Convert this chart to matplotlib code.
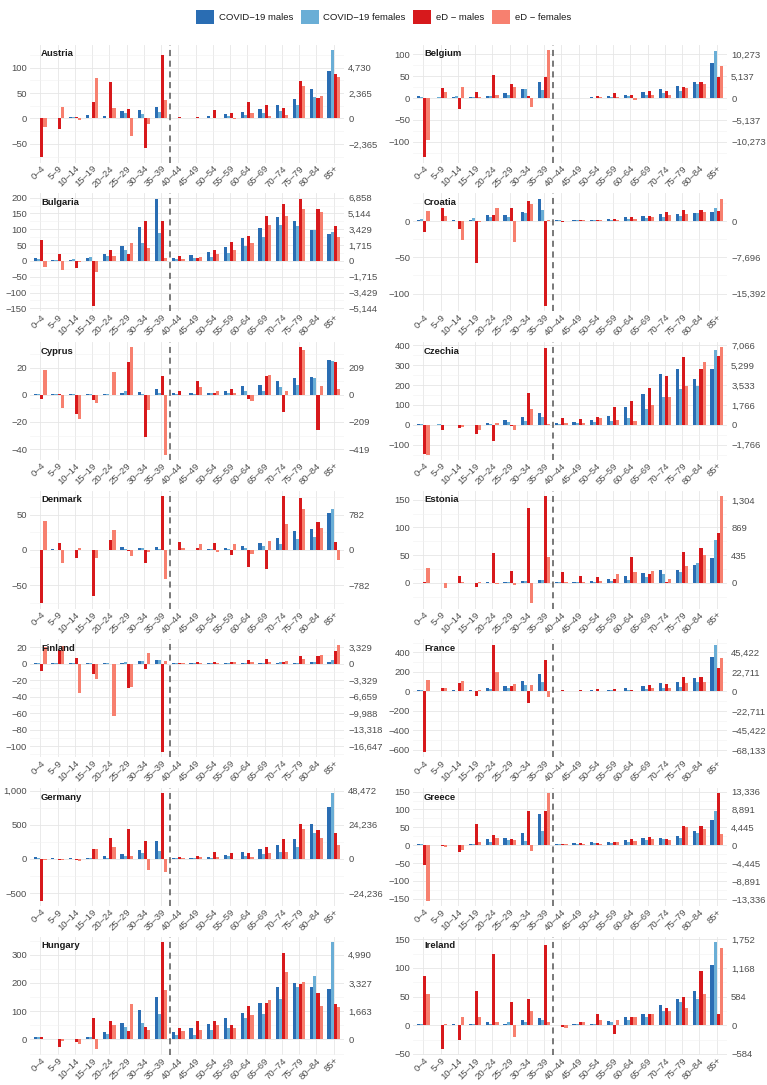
import numpy as np
import matplotlib
matplotlib.use('Agg')
import matplotlib.pyplot as plt
from matplotlib import ticker
from matplotlib.patches import Patch

plt.rcParams['font.family'] = ['Liberation Sans', 'DejaVu Sans']

ages = ['0–4', '5–9', '10–14', '15–19', '20–24', '25–29', '30–34', '35–39', '40–44',
        '45–49', '50–54', '55–59', '60–64', '65–69', '70–74', '75–79', '80–84', '85+']

# rows: COVID-19 males, COVID-19 females, eD males, eD females
# from 40-44 on the values are in left-axis units (right axis = value * factor)
austria = [
    [1, 0.5, 3, 6, 4, 15, 16, 23, 1, 1, 5, 8, 13, 18, 27, 39, 59, 94],
    [1, 0.5, 3, 1, 1, 11, 9, 12, 1, 1, 1, 5, 6, 10, 15, 26, 42, 135],
    [-76, -21, 3, 32, 71, 19, -59, 125, 3, 2, 17, 10, 32, 26, 21, 74, 41, 87],
    [-16, 22, -3, 80, 21, -34, -10, 37, 1, 1, 1, -1, 11, 5, 6, 64, 45, 82]]
belgium = [
    [5, 1, 2, 2, 5, 12, 20, 36, 1, 1, 2, 5, 8, 13, 21, 27, 37, 79],
    [2, 2, 4, 3, 4, 8, 20, 19, 1, 1, 1, 3, 5, 7, 11, 16, 31, 108],
    [-135, 22, -24, 13, 52, 32, 5, 48, 1, 1, 4, 11, 7, 17, 15, 25, 36, 48],
    [-95, 14, 25, 3, 6, 25, -21, 110, 1, 1, 2, 3, -4, 8, 6, 22, 32, 73]]
bulgaria = [
    [8, 3, 2, 9, 23, 46, 107, 197, 10, 18, 29, 43, 72, 103, 139, 126, 98, 84],
    [6, 2, 5, 12, 16, 34, 55, 87, 5, 8, 13, 25, 46, 74, 112, 111, 97, 92],
    [66, 21, -21, -142, 36, 22, 125, 126, 16, 10, 36, 61, 79, 141, 180, 197, 165, 110],
    [-19, -30, -5, -34, 14, 56, 41, 10, 7, 12, 23, 33, 58, 113, 143, 165, 155, 77]]
croatia = [
    [2, 0.5, 2, 1, 9, 8, 13, 31, 1, 1, 2, 3, 5, 7, 10, 10, 11, 13],
    [3, 0.5, 0.5, 4, 5, 6, 11, 15, 1, 1, 1, 1, 3, 4, 5, 7, 11, 18],
    [-15, 18, -11, -58, 9, 18, 27, -117, -1, 2, 2, 3, 6, 7, 13, 15, 15, 14],
    [14, 7, -26, -2, 18, -29, 23, 1, 0.5, 1, 1, 1, 3, 5, 8, 10, 13, 31]]
cyprus = [
    [0.3, 0.3, 0.3, 0.3, 0.3, 1.5, 2, 4, 1, 1, 1.5, 2.5, 6.5, 7, 10, 12.5, 13, 25.5],
    [0.3, 0.5, 0.3, 0.3, 0.3, 3, 0.3, 1, 0.3, 0.5, 1.5, 1, 2.5, 3, 6, 7.5, 12, 25],
    [-3, 0.3, -14, -4, -0.5, 24, -31, 13.5, 2.5, 10, 1.5, 4.5, -3, 13.5, -12.5, 35, -26, 24],
    [18.5, -9.5, -18, -6, 17, 35, -11.5, -44, -0.5, 6, 3, 1, -4.5, 14.5, 2.5, 33, 6.5, 4]]
czechia = [
    [2, 1, 1, 1, 8, 22, 40, 61, 7, 15, 25, 45, 87, 153, 253, 280, 228, 283],
    [5, 4, 1, 1, 3, 14, 17, 41, 5, 7, 12, 21, 36, 77, 142, 182, 197, 378],
    [-147, -27, -17, -45, -84, -8, 162, 388, 32, 27, 39, 87, 118, 183, 245, 343, 283, 347],
    [-150, -1, -12, -28, 8, -24, 78, 2, 8, 10, 33, 25, 21, 100, 142, 193, 316, 390]]
denmark = [
    [0.5, 1, 0.5, 0.3, 0.5, 4, 3, 4, 0.5, 0.5, 2, 2.5, 5, 10.5, 17, 27, 30, 53],
    [0.3, 0.3, 0.3, 0.3, 0.5, 2, 3, 2, 0.5, 0.5, 1.5, 1.5, 3, 5, 9, 16, 18, 59],
    [-76, 10, -11, -65, 13.5, -1, -19, 77, 11, 3, 9.5, -6.5, -25, -27, 77, 74, 40, 11],
    [41, -19, 3, -11, 28, -8, -3, -42, 3, 9, -3, 9, -5.5, 13, 37, 59, 32, -15]]
estonia = [
    [0.5, 0.5, 0.3, 0.5, 1, 1, 3, 5, 1.5, 2, 3, 6, 12, 17, 24, 23, 33, 44],
    [0.5, 0.3, 0.3, 0.3, 0.5, 2, 3, 5, 1, 1, 1, 4, 5, 10, 16, 19, 35, 78],
    [1, -1, 12, -7, 54, 21, 135, 157, 19, 12, 11, 6, 47, 16, 2, 56, 63, 90],
    [26, -10, 1, 2, -2, -4, -37, 46, 1, 1, 4, 15, 19, 21, 7, 30, 50, 157]]
finland = [
    [0.3, 0.3, 0.3, 0.5, 1, 1, 3, 5, 0.3, 0.3, 0.3, 0.5, 0.5, 0.5, 1, 1, 2, 2.5],
    [0.3, 0.3, 0.3, 0.5, 0.3, 2, 3, 4, 0.3, 0.3, 0.3, 0.3, 0.5, 1, 1.5, 1, 2, 4],
    [-9, 17, 6.5, -13, -1, -29, -6, -107, 0.3, 1.5, 2, 2.5, 4, 5.5, 2.5, 9, 9.5, 15],
    [20, 21, -36, -19, -64, -28, 12.5, 3, 0.3, 0.3, 0.3, 1.5, 1.5, 2.5, 3, 6, 10, 23]]
france = [
    [15, 5, 10, 12, 30, 55, 103, 178, 5, 7, 12, 18, 30, 51, 82, 94, 133, 350],
    [10, 5, 5, 8, 25, 32, 68, 92, 3, 5, 5, 12, 17, 24, 38, 50, 97, 479],
    [-620, 32, 82, -44, 478, 51, -116, 318, 14, 12, 24, 24, 14, 68, 72, 147, 147, 238],
    [115, 32, 103, 10, 195, 80, 68, -54, 5, 5, 7, 7, 7, 34, 32, 91, 99, 345]]
germany = [
    [25, 8, 8, 12, 38, 70, 137, 258, 10, 12, 30, 60, 97, 145, 198, 290, 505, 765],
    [20, 5, 5, 8, 20, 50, 90, 115, 10, 12, 15, 40, 40, 68, 105, 170, 375, 960],
    [-610, -15, -20, 152, 313, 445, 260, 960, 25, 45, 100, 80, 85, 168, 290, 505, 430, 385],
    [-8, -8, -32, 152, 170, 50, -160, -190, 15, 25, 25, 5, 30, 80, 100, 445, 305, 200]]
greece = [
    [2, 1, 1, 2, 18, 20, 35, 88, 3, 5, 8, 10, 15, 20, 20, 25, 40, 70],
    [2, 1, 1, 2, 10, 15, 12, 40, 2, 3, 5, 5, 10, 15, 18, 20, 35, 95],
    [-55, -3, -18, 60, 28, 18, 95, 95, 3, 5, 5, 10, 18, 22, 18, 55, 55, 145],
    [-155, -6, -12, 10, 20, 15, -15, 145, 2, 3, 3, 8, 12, 18, 15, 50, 45, 30]]
hungary = [
    [10, 1, 2, 8, 25, 60, 105, 150, 25, 40, 55, 75, 95, 130, 185, 200, 185, 180],
    [8, 1, 2, 8, 20, 45, 60, 90, 15, 15, 35, 40, 75, 90, 145, 185, 225, 345],
    [10, -25, -10, 75, 65, 30, 45, 345, 40, 65, 65, 50, 120, 130, 305, 195, 165, 125],
    [3, -5, -15, -35, 50, 125, 35, 175, 30, 35, 50, 40, 85, 140, 240, 205, 120, 115]]
ireland = [
    [3, 1, 2, 3, 5, 3, 10, 12, 1, 2, 3, 8, 15, 20, 35, 45, 60, 105],
    [2, 1, 1, 2, 3, 5, 5, 10, 1, 2, 3, 5, 10, 15, 25, 40, 45, 145],
    [85, -42, -25, 60, 125, 40, 45, 140, -3, 5, 20, -15, 15, 20, 30, 50, 95, 20],
    [55, 2, 15, 15, 5, -20, 25, 5, -5, 5, 10, 10, 15, 20, 25, 30, 55, 135]]

countries = ['Austria', 'Belgium', 'Bulgaria', 'Croatia', 'Cyprus', 'Czechia', 'Denmark',
             'Estonia', 'Finland', 'France', 'Germany', 'Greece', 'Hungary', 'Ireland']
panels = [austria, belgium, bulgaria, croatia, cyprus, czechia, denmark,
          estonia, finland, france, germany, greece, hungary, ireland]
factors = [47.3, 102.733, 34.292, 153.92, 10.47, 17.6645, 15.64,
           8.693, 166.47, 113.555, 48.472, 88.907, 16.634, 11.68]
steps = [50, 50, 50, 50, 20, 100, 50, 50, 20, 200, 500, 50, 100, 50]

series = ['COVID−19 males', 'COVID−19 females', 'eD − males', 'eD − females']
colors = ['#2a6db3', '#6aaed6', '#d7191c', '#f7806f']


def fmt(v):
    s = '{:,.0f}'.format(abs(v))
    return ('−' + s) if v < -0.5 else s


fig = plt.figure(figsize=(7.67, 10.85), dpi=100)
W, H = 767.0, 1085.0
x = np.arange(len(ages))
offsets = [-0.27, -0.09, 0.09, 0.27]
txt = '#4d4d4d'

for i, name in enumerate(countries):
    row, col = divmod(i, 2)
    left_px = 30 if col == 0 else 413
    top_px = 44.5 + row * 148.7
    ax = fig.add_axes([left_px / W, 1 - (top_px + 118) / H, 314 / W, 118 / H])
    vals = panels[i]

    for k in range(4):
        ax.bar(x + offsets[k], vals[k], width=0.18, color=colors[k], lw=0, zorder=2)
    ax.axvline(7.5, color='#555555', ls=(0, (4, 3)), lw=1.1, zorder=3)

    lo = min(min(v) for v in vals)
    hi = max(max(v) for v in vals)
    pad = 0.05 * (hi - lo)
    ax.set_ylim(lo - pad, hi + pad)
    ax.set_xlim(-0.6, 17.6)

    st = steps[i]
    yt = [t for t in np.arange(-2000, 2001, st) if lo - pad <= t <= hi + pad]
    ax.set_yticks(yt)
    ax.set_yticklabels([fmt(t) for t in yt])
    ax.yaxis.set_minor_locator(ticker.MultipleLocator(st / 2))
    ax.set_xticks(x)
    ax.set_xticklabels(ages, rotation=45, ha='right', rotation_mode='anchor')

    ax.set_axisbelow(True)
    ax.grid(which='major', color='#e6e6e6', lw=0.6, zorder=0)
    ax.grid(which='minor', axis='y', color='#f1f1f1', lw=0.4, zorder=0)
    for s in ax.spines.values():
        s.set_visible(False)
    ax.tick_params(which='both', length=0, labelsize=6.8, colors=txt, pad=2)
    ax.tick_params(axis='x', pad=1)

    ax2 = ax.twinx()
    ax2.set_ylim(ax.get_ylim())
    ax2.set_yticks(yt)
    ax2.set_yticklabels([fmt(t * factors[i]) for t in yt])
    ax2.tick_params(length=0, labelsize=6.8, colors=txt, pad=3)
    for s in ax2.spines.values():
        s.set_visible(False)

    ax.text(0.035, 0.96, name, transform=ax.transAxes, fontsize=6.8,
            fontweight='bold', va='top', ha='left', color='#1a1a1a', zorder=5)

handles = [Patch(facecolor=c, edgecolor='none', label=l) for c, l in zip(colors, series)]
fig.legend(handles=handles, loc='upper center', bbox_to_anchor=(0.5, 0.999), ncol=4,
           frameon=False, fontsize=6.8, handlelength=1.9, handleheight=1.9,
           columnspacing=0.8, handletextpad=0.5, labelcolor='#1a1a1a')

fig.savefig('out.png', dpi=100)
